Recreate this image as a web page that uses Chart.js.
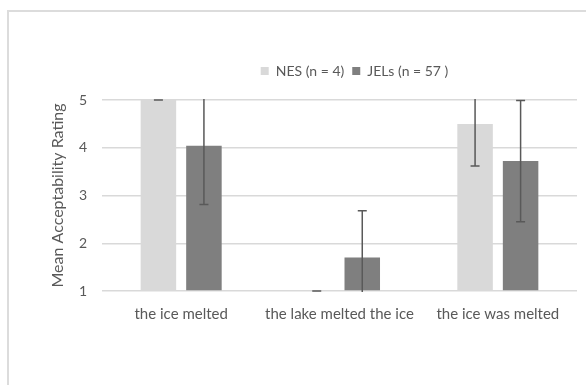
<!DOCTYPE html>
<html>
<head>
<meta charset="utf-8">
<script src="https://cdn.jsdelivr.net/npm/chart.js@4/dist/chart.umd.min.js"></script>
<style>
  html, body { margin: 0; padding: 0; background: #ffffff; }
  #wrap { position: relative; width: 586px; height: 385px; overflow: hidden; }
  #frame { position: absolute; left: 7px; top: 10px; width: 700px; height: 500px;
           border-left: 2px solid #dcdcdc; border-top: 2px solid #dcdcdc; }
  canvas { position: absolute; left: 0; top: 0; }
</style>
</head>
<body>
<div id="wrap">
  <div id="frame"></div>
  <canvas id="c" width="586" height="385"></canvas>
</div>
<script>
// Sentence types rated by each group
const categories = ["the ice melted", "the lake melted the ice", "the ice was melted"];
const seriesNames = ["NES (n = 4)", "JELs (n = 57 )"];
// Mean ratings (1–5 scale)
const nesMeans = [5.0, 1.0, 4.50];
const jelMeans = [4.04, 1.70, 3.72];
// Standard deviations shown as error bars
const nesSd = [0.0, 0.0, 0.88];
const jelSd = [1.23, 0.98, 1.27];
const yTicks = [1, 2, 3, 4, 5];

const FONT = "Lato, 'Open Sans', sans-serif";
const TEXT = "#595959";

// Draws mean ± SD whiskers over every bar, clipped to the plot area
const errorBars = {
  id: "errorBars",
  afterDatasetsDraw(chart) {
    const ctx = chart.ctx;
    const area = chart.chartArea;
    const y = chart.scales.y;
    const sds = [nesSd, jelSd];
    ctx.save();
    ctx.beginPath();
    ctx.rect(area.left, area.top - 1, area.right - area.left, area.bottom - area.top + 2);
    ctx.clip();
    ctx.strokeStyle = "#595959";
    ctx.lineWidth = 1.5;
    chart.data.datasets.forEach((ds, di) => {
      const meta = chart.getDatasetMeta(di);
      meta.data.forEach((bar, i) => {
        const m = ds.data[i];
        const sd = sds[di][i];
        const x = bar.x;
        const yTop = y.getPixelForValue(m + sd);
        const yBot = y.getPixelForValue(m - sd);
        const cap = 4.5;
        ctx.beginPath();
        ctx.moveTo(x, yTop); ctx.lineTo(x, yBot);
        ctx.moveTo(x - cap, yTop); ctx.lineTo(x + cap, yTop);
        ctx.moveTo(x - cap, yBot); ctx.lineTo(x + cap, yBot);
        ctx.stroke();
      });
    });
    ctx.restore();
  }
};

// Extra room under the legend, and legend centred a little right of the canvas middle
const legendSpacing = {
  id: "legendSpacing",
  beforeLayout(chart) {
    const lg = chart.legend;
    if (lg && !lg._spaced) {
      const fit = lg.fit;
      lg.fit = function () { fit.call(this); this.height += 12; };
      lg._spaced = true;
    }
  },
  afterLayout(chart) {
    const lg = chart.legend;
    lg.left += 42;
    lg.right += 42;
  }
};

new Chart(document.getElementById("c"), {
  type: "bar",
  data: {
    labels: categories,
    datasets: [
      { label: seriesNames[0], data: nesMeans, backgroundColor: "#d9d9d9" },
      { label: seriesNames[1], data: jelMeans, backgroundColor: "#7f7f7f" }
    ]
  },
  options: {
    responsive: false,
    animation: false,
    devicePixelRatio: 1,
    datasets: { bar: { categoryPercentage: 0.575, barPercentage: 0.78, base: 1 } },
    layout: { padding: { left: 48, right: 9, top: 56, bottom: 54 } },
    plugins: {
      tooltip: { enabled: false },
      legend: {
        position: "top",
        labels: {
          color: TEXT,
          font: { family: FONT, size: 14 },
          boxWidth: 8, boxHeight: 8,
          padding: 8
        }
      }
    },
    scales: {
      x: {
        grid: { display: false, drawTicks: false },
        border: { display: false },
        ticks: { color: TEXT, font: { family: FONT, size: 15 }, padding: 14, maxRotation: 0 },
        afterFit(s) { s.height = 40; }
      },
      y: {
        min: 1, max: 5,
        afterBuildTicks(s) { s.ticks = yTicks.map(v => ({ value: v })); },
        grid: { color: "#d9d9d9", lineWidth: 1.5, drawTicks: false },
        border: { display: false },
        ticks: { color: TEXT, font: { family: FONT, size: 14 }, padding: 15 },
        title: { display: true, text: "Mean Acceptability Rating", color: TEXT,
                 font: { family: FONT, size: 16 }, padding: 0 },
        afterFit(s) { s.width = 54; }
      }
    }
  },
  plugins: [errorBars, legendSpacing]
});
</script>
</body>
</html>
